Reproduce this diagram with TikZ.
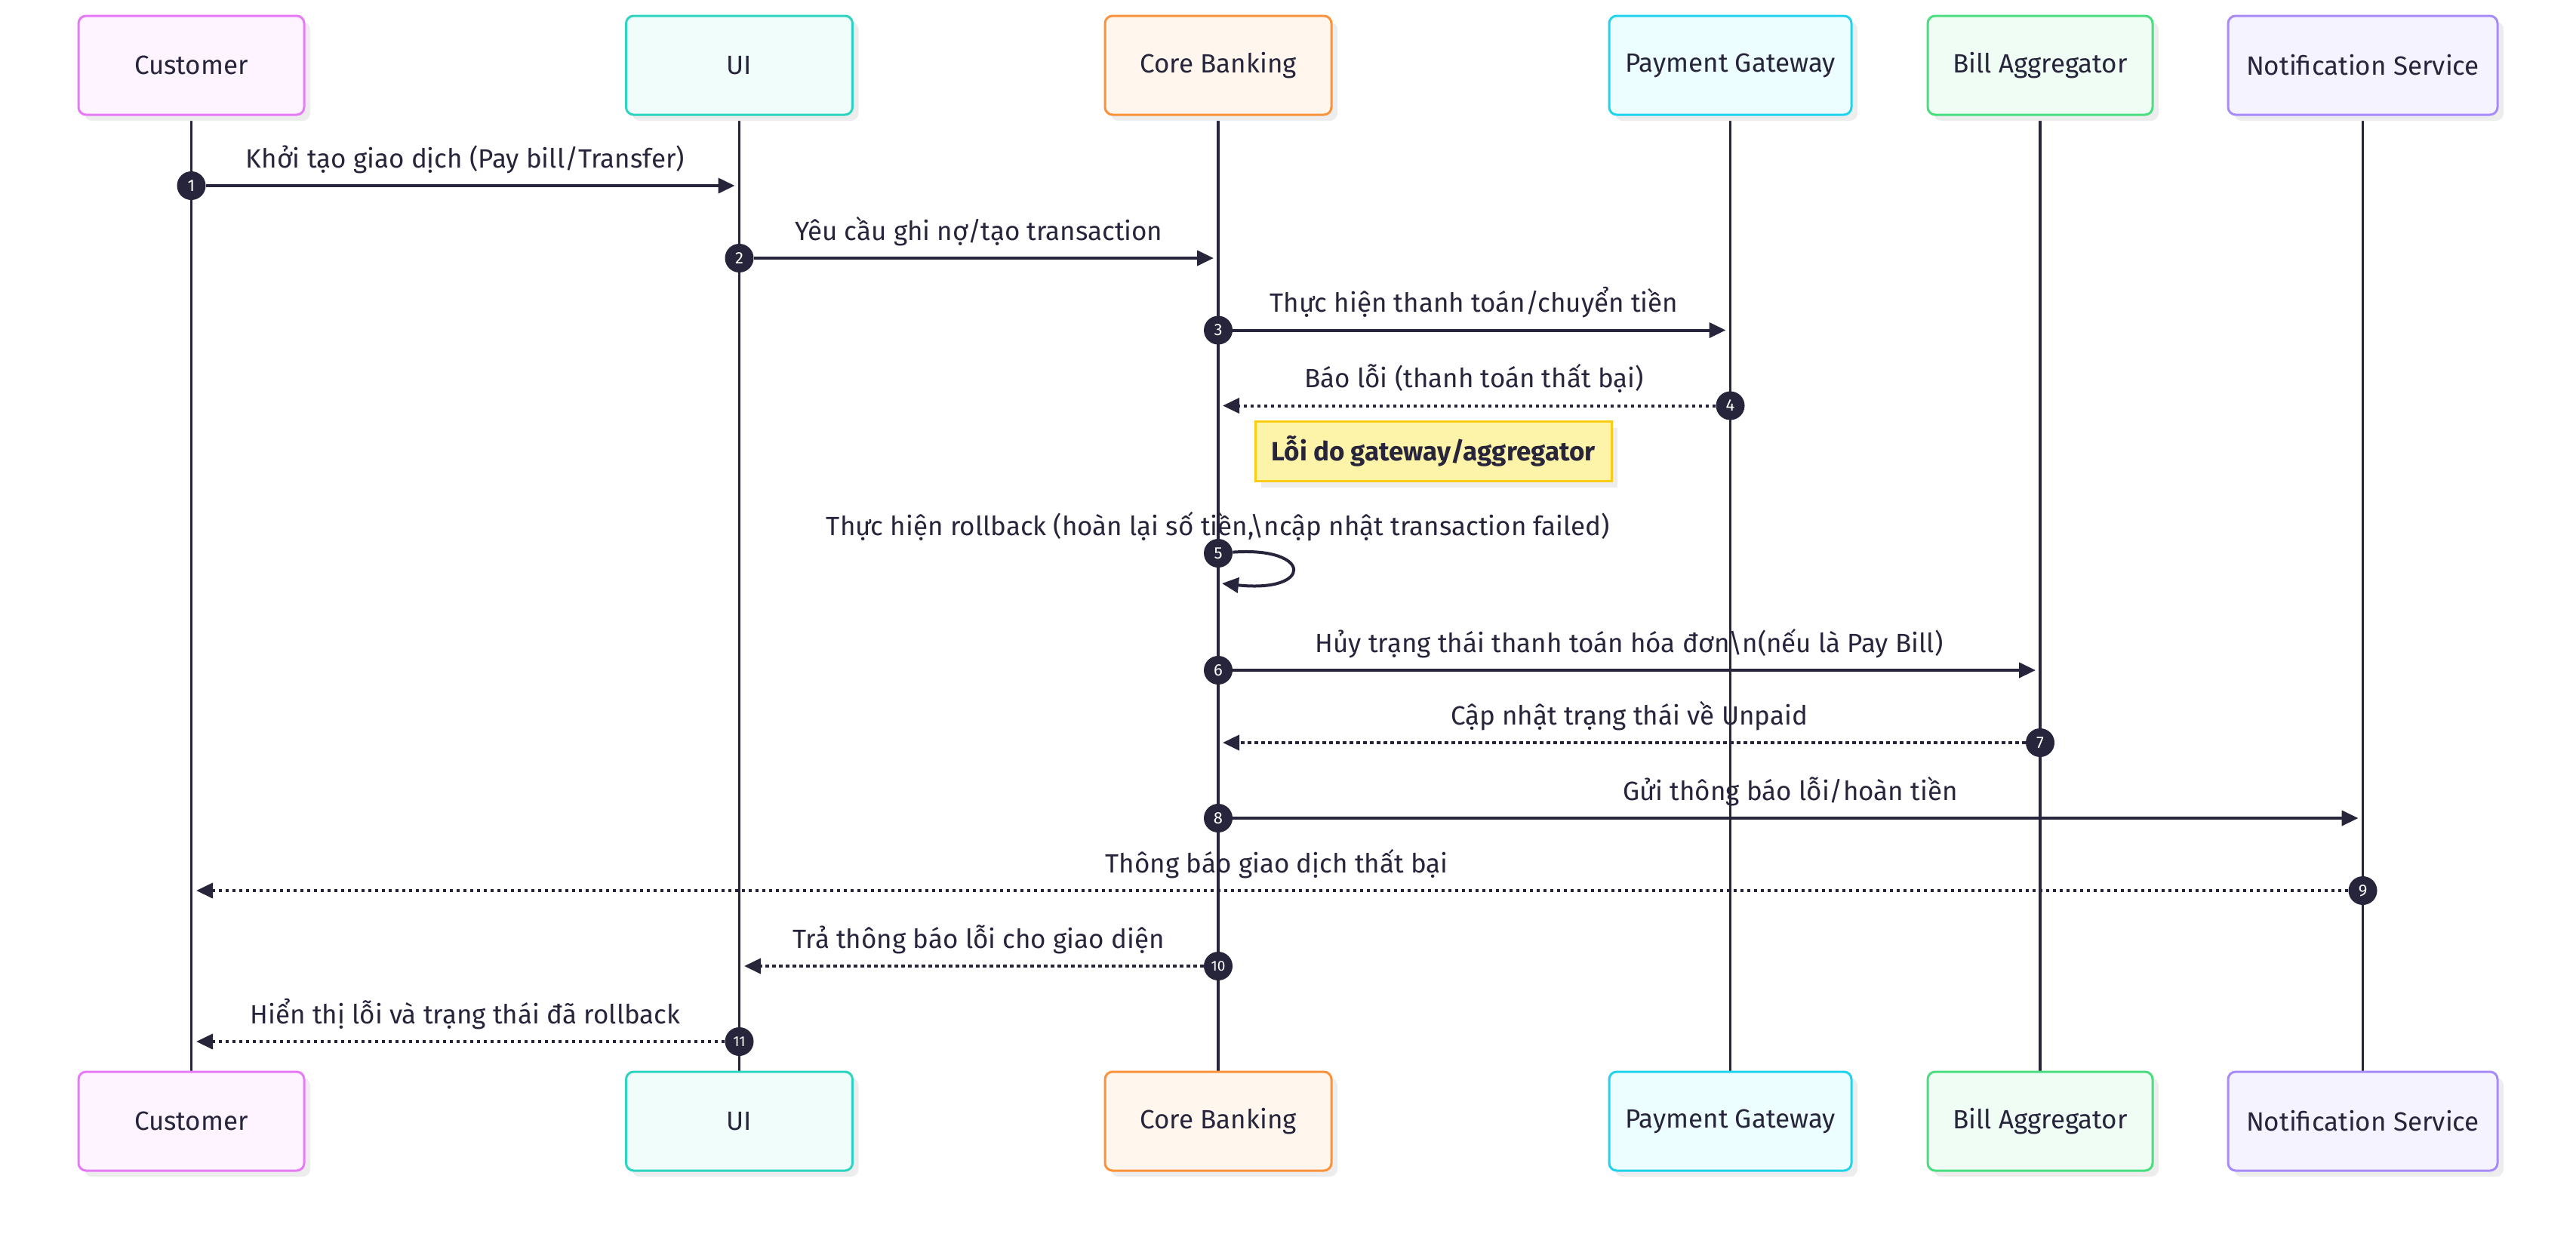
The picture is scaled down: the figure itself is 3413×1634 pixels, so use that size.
\documentclass[tikz,border=0pt]{standalone}
\usepackage{fontspec}
\setmainfont{Fira Sans}
\usetikzlibrary{arrows.meta,shadows}
\definecolor{ink}{HTML}{27253B}
\definecolor{shad}{HTML}{EDEDED}
\definecolor{notefill}{HTML}{FEF4A9}
\definecolor{noteB}{HTML}{FACC15}
\definecolor{cuB}{HTML}{E879F9}\definecolor{cuF}{HTML}{FDF4FF}
\definecolor{uiB}{HTML}{2DD4BF}\definecolor{uiF}{HTML}{F0FDFA}
\definecolor{cbB}{HTML}{FB923C}\definecolor{cbF}{HTML}{FFF7ED}
\definecolor{pgB}{HTML}{22D3EE}\definecolor{pgF}{HTML}{ECFEFF}
\definecolor{baB}{HTML}{4ADE80}\definecolor{baF}{HTML}{F0FDF4}
\definecolor{nsB}{HTML}{A78BFA}\definecolor{nsF}{HTML}{F5F3FF}
\pgfdeclarelayer{background}
\pgfsetlayers{background,main}
\tikzset{
  txt/.style={font=\fontsize{17.5}{20}\selectfont},
  actor/.style 2 args={draw=#1, fill=#2, line width=1.5pt, rounded corners=5pt,
    minimum height=65.5pt, inner sep=0pt, text=ink, txt,
    drop shadow={shadow xshift=4pt, shadow yshift=-4pt, fill=shad, opacity=1}},
  life/.style={draw=ink, line width=1.7pt},
  msg/.style={draw=ink, line width=2pt, -{Triangle[length=11pt,width=10pt]}},
  ret/.style={msg, dash pattern=on 2.3pt off 2.2pt},
  badge/.style={circle, fill=ink, text=white, minimum size=19pt, inner sep=0pt,
    font=\fontsize{11}{11}\selectfont},
  badgesm/.style={badge, font=\fontsize{9.5}{10}\selectfont},
  lbl/.style={anchor=base, text=ink, inner sep=0pt, txt},
  note/.style={draw=noteB, fill=notefill, line width=1.5pt, minimum width=236pt,
    minimum height=39.5pt, inner sep=0pt, text=ink,
    font=\fontsize{17.5}{20}\selectfont\bfseries,
    drop shadow={shadow xshift=4pt, shadow yshift=-4pt, fill=shad, opacity=1}}
}
\begin{document}
\begin{tikzpicture}[x=0.5pt,y=-0.5pt]
\begin{pgfonlayer}{background}
\fill[white] (0,0) rectangle (3413,1634);
\end{pgfonlayer}
\useasboundingbox (0,0) rectangle (3413,1634);
% actors top
\node[actor={cuB}{cuF}, minimum width=149.5pt] (cu) at (253.5,86.5) {Customer};
\node[actor={uiB}{uiF}, minimum width=150pt] (ui) at (979.5,86.5) {UI};
\node[actor={cbB}{cbF}, minimum width=150pt] (cb) at (1614,86.5) {Core Banking};
\node[actor={pgB}{pgF}, minimum width=160.5pt] (pg) at (2292.5,86.5) {Payment Gateway};
\node[actor={baB}{baF}, minimum width=149pt] (ba) at (2703,86.5) {Bill Aggregator};
\node[actor={nsB}{nsF}, minimum width=178.5pt] (ns) at (3130.5,86.5) {Notification Service};
% actors bottom
\node[actor={cuB}{cuF}, minimum width=149.5pt] (cu2) at (253.5,1485.5) {Customer};
\node[actor={uiB}{uiF}, minimum width=150pt] (ui2) at (979.5,1485.5) {UI};
\node[actor={cbB}{cbF}, minimum width=150pt] (cb2) at (1614,1485.5) {Core Banking};
\node[actor={pgB}{pgF}, minimum width=160.5pt] (pg2) at (2292.5,1485.5) {Payment Gateway};
\node[actor={baB}{baF}, minimum width=149pt] (ba2) at (2703,1485.5) {Bill Aggregator};
\node[actor={nsB}{nsF}, minimum width=178.5pt] (ns2) at (3130.5,1485.5) {Notification Service};
% lifelines
\begin{pgfonlayer}{background}
\foreach \a in {cu,ui,cb,pg,ba,ns}{\draw[life] (\a.south) -- (\a2.north);}
\end{pgfonlayer}
% note
\node[note] (n1) at (1899,598) {Lỗi do gateway/aggregator};
% badges
\node[badge] (b1) at (253.5,246) {1};
\node[badge] (b2) at (979.5,342) {2};
\node[badge] (b3) at (1614,437.5) {3};
\node[badge] (b4) at (2292.5,537.5) {4};
\node[badge] (b5) at (1614,733) {5};
\node[badge] (b6) at (1614,888) {6};
\node[badge] (b7) at (2703,984) {7};
\node[badge] (b8) at (1614,1084) {8};
\node[badge] (b9) at (3130.5,1180) {9};
\node[badgesm] (b10) at (1614,1280) {10};
\node[badgesm] (b11) at (979.5,1380) {11};
% targets
\coordinate (t1) at (973.5,246);
\coordinate (t2) at (1608,342);
\coordinate (t3) at (2286.5,437.5);
\coordinate (t4) at (1620,537.5);
\coordinate (t5) at (1619,773);
\coordinate (t6) at (2697,888);
\coordinate (t7) at (1620,984);
\coordinate (t8) at (3124.5,1084);
\coordinate (t9) at (260,1180);
\coordinate (t10) at (986,1280);
\coordinate (t11) at (260,1380);
% arrows
\draw[msg] (b1) -- (t1);
\draw[msg] (b2) -- (t2);
\draw[msg] (b3) -- (t3);
\draw[ret] (b4) -- (t4);
\draw[msg] (b5) .. controls (1740,724) and (1740,786) .. (t5);
\draw[msg] (b6) -- (t6);
\draw[ret] (b7) -- (t7);
\draw[msg] (b8) -- (t8);
\draw[ret] (b9) -- (t9);
\draw[ret] (b10) -- (t10);
\draw[ret] (b11) -- (t11);
% labels
\node[lbl] (l1) at (616.5,222) {Khởi tạo giao dịch (Pay bill/Transfer)};
\node[lbl] (l2) at (1296.75,318) {Yêu cầu ghi nợ/tạo transaction};
\node[lbl] (l3) at (1953,413.5) {Thực hiện thanh toán/chuyển tiền};
\node[lbl] (l4) at (1953,513.5) {Báo lỗi (thanh toán thất bại)};
\node[lbl] (l5) at (1614,709) {Thực hiện rollback (hoàn lại số tiền,\textbackslash ncập nhật transaction failed)};
\node[lbl] (l6) at (2158.5,864) {Hủy trạng thái thanh toán hóa đơn\textbackslash n(nếu là Pay Bill)};
\node[lbl] (l7) at (2158.5,960) {Cập nhật trạng thái về Unpaid};
\node[lbl] (l8) at (2372,1060) {Gửi thông báo lỗi/hoàn tiền};
\node[lbl] (l9) at (1691.75,1156) {Thông báo giao dịch thất bại};
\node[lbl] (l10) at (1296.75,1256) {Trả thông báo lỗi cho giao diện};
\node[lbl] (l11) at (616.5,1356) {Hiển thị lỗi và trạng thái đã rollback};
\end{tikzpicture}
\end{document}
